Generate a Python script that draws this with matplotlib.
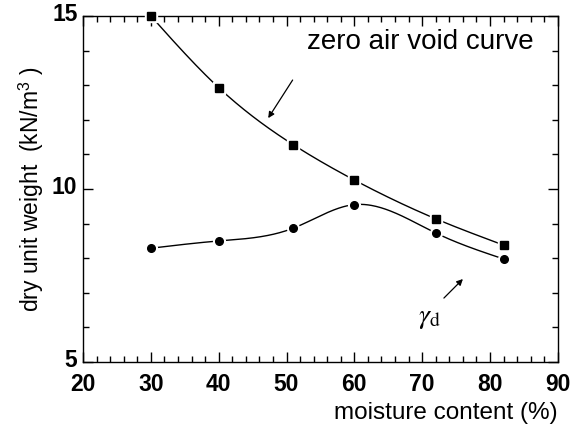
import numpy as np
import matplotlib.pyplot as plt
import matplotlib.transforms as mtransforms
from matplotlib.ticker import MultipleLocator

plt.rcParams['font.family'] = ['Liberation Sans', 'DejaVu Sans']
plt.rcParams['mathtext.fontset'] = 'stix'

# moisture content (%) and dry unit weight (kN/m^3)
moisture = [30, 40, 51, 60, 72, 82]
zero_air_void = [15.0, 12.93, 11.28, 10.26, 9.14, 8.38]
gamma_d = [8.29, 8.50, 8.87, 9.55, 8.73, 7.98]


def natural_spline(x, y, n=300):
    """Natural cubic spline through (x, y), sampled at n points."""
    x = np.asarray(x, float)
    y = np.asarray(y, float)
    k = len(x)
    h = np.diff(x)
    A = np.zeros((k, k))
    r = np.zeros(k)
    A[0, 0] = A[-1, -1] = 1.0
    for i in range(1, k - 1):
        A[i, i - 1] = h[i - 1]
        A[i, i] = 2 * (h[i - 1] + h[i])
        A[i, i + 1] = h[i]
        r[i] = 6 * ((y[i + 1] - y[i]) / h[i] - (y[i] - y[i - 1]) / h[i - 1])
    m = np.linalg.solve(A, r)
    xs = np.linspace(x[0], x[-1], n)
    idx = np.clip(np.searchsorted(x, xs) - 1, 0, k - 2)
    x0, x1 = x[idx], x[idx + 1]
    hh = x1 - x0
    a = (x1 - xs) / hh
    b = (xs - x0) / hh
    ys = (a * y[idx] + b * y[idx + 1]
          + ((a**3 - a) * m[idx] + (b**3 - b) * m[idx + 1]) * hh**2 / 6)
    return xs, ys


fig = plt.figure(figsize=(5.71, 4.28), dpi=100)
ax = fig.add_axes([0.1454, 0.154, 0.8316, 0.8086])

for yv, mk in ((zero_air_void, 's'), (gamma_d, 'o')):
    xs, ys = natural_spline(moisture, yv)
    ax.plot(xs, ys, color='black', lw=1.0, zorder=2)
    ax.plot(moisture, yv, linestyle='none', marker=mk, ms=8.5,
            color='white', zorder=3, clip_on=False)
    ax.plot(moisture, yv, linestyle='none', marker=mk, ms=5.5,
            color='black', zorder=4, clip_on=False)

ax.set_xlim(20, 90)
ax.set_ylim(5, 15)
ax.xaxis.set_major_locator(MultipleLocator(10))
ax.xaxis.set_minor_locator(MultipleLocator(2))
ax.yaxis.set_major_locator(MultipleLocator(5))
ax.yaxis.set_minor_locator(MultipleLocator(1))
ax.tick_params(which='both', direction='in', top=True, right=True, width=1)
ax.tick_params(which='major', length=7, labelsize=16.5)
ax.tick_params(axis='x', which='major', pad=8)
ax.tick_params(axis='y', which='major', pad=4)
ax.tick_params(which='minor', length=4)
for lab in ax.get_xticklabels() + ax.get_yticklabels():
    lab.set_fontweight('bold')
# the y labels sit a touch above their ticks so "5" clears "20"
lift = mtransforms.ScaledTranslation(0, 3 / 72, fig.dpi_scale_trans)
for lab in ax.get_yticklabels():
    lab.set_transform(lab.get_transform() + lift)
for sp in ax.spines.values():
    sp.set_linewidth(1.0)

ax.set_xlabel('moisture content (%)', fontsize=17.5, loc='right', labelpad=4)
ax.set_ylabel(r'dry unit weight  (kN/m$^\mathregular{3}$ )', fontsize=16.5,
              labelpad=4)

ax.text(69.7, 14.25, 'zero air void curve', fontsize=20, ha='center',
        va='center')
ax.annotate('', xy=(47.3, 12.05), xytext=(50.9, 13.15),
            arrowprops=dict(arrowstyle='-|>', color='black', lw=0.9,
                            mutation_scale=9, shrinkA=0, shrinkB=0))
ax.text(71.1, 6.27, r'$\gamma_\mathrm{d}$', fontsize=20, ha='center',
        va='center')
ax.annotate('', xy=(76.0, 7.40), xytext=(73.2, 6.85),
            arrowprops=dict(arrowstyle='-|>', color='black', lw=0.9,
                            mutation_scale=9, shrinkA=0, shrinkB=0))

fig.savefig('out.png', dpi=100)
